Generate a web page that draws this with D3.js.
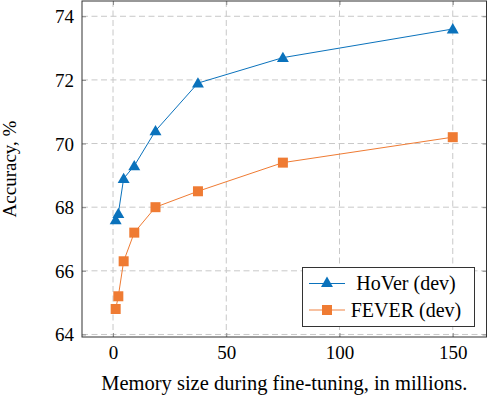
<!DOCTYPE html>
<html>
<head>
<meta charset="utf-8">
<script src="https://cdn.jsdelivr.net/npm/d3@7"></script>
<style>
  html, body { margin: 0; padding: 0; background: #fff; }
  svg { display: block; }
  svg text { font-family: "Liberation Serif", "Times New Roman", serif; }
</style>
</head>
<body>
<div class="plotDiv"></div>
<script>
'use strict';

// memory size (millions) for each run
var memorySizes = [1.17, 2.34, 4.69, 9.38, 18.75, 37.5, 75, 150];
var hoverAcc = [67.6, 67.8, 68.9, 69.3, 70.4, 71.9, 72.7, 73.6];
var feverAcc = [64.8, 65.2, 66.3, 67.2, 68.0, 68.5, 69.4, 70.2];
var xTicks = [0, 50, 100, 150];
var yTicks = [64, 66, 68, 70, 72, 74];
var seriesNames = ['HoVer (dev)', 'FEVER (dev)'];

var width = 488, height = 396;
var plotVars = {left: 82, right: 486.5, top: 1, bottom: 337};
var blue = '#0a72bc', orange = '#ef7b33';
var fontFam = '"Liberation Serif", "Times New Roman", serif';

var mySvg;

const main = () => {
    mySvg = d3.select('.plotDiv').append('svg')
        .attr('width', width)
        .attr('height', height);

    let xScale = d3.scaleLinear()
        .domain([-13.7, 164.9])
        .range([plotVars.left, plotVars.right]);
    let yScale = d3.scaleLinear()
        .domain([63.92, 74.48])
        .range([plotVars.bottom, plotVars.top]);

    drawGrid(xScale, yScale);
    drawAxes(xScale, yScale);

    let hoverData = memorySizes.map((m, i) => ({x: m, y: hoverAcc[i]}));
    let feverData = memorySizes.map((m, i) => ({x: m, y: feverAcc[i]}));

    drawSeries(feverData, xScale, yScale, orange, 'square');
    drawSeries(hoverData, xScale, yScale, blue, 'triangle');

    drawLegend();
}

function drawGrid(xScale, yScale){
    let g = mySvg.append('g').attr('class', 'grid');
    g.selectAll('line.gx')
        .data(xTicks)
        .join('line')
        .attr('class', 'gx')
        .attr('x1', d => xScale(d)).attr('x2', d => xScale(d))
        .attr('y1', plotVars.top).attr('y2', plotVars.bottom)
        .attr('stroke', '#c8c8c8')
        .attr('stroke-width', 1)
        .attr('stroke-dasharray', '6,3.5');
    g.selectAll('line.gy')
        .data(yTicks)
        .join('line')
        .attr('class', 'gy')
        .attr('x1', plotVars.left).attr('x2', plotVars.right)
        .attr('y1', d => yScale(d)).attr('y2', d => yScale(d))
        .attr('stroke', '#c8c8c8')
        .attr('stroke-width', 1)
        .attr('stroke-dasharray', '6,3.5');
}

function drawAxes(xScale, yScale){
    // ticks on all four sides, pointing inward (pgfplots look)
    let xAxisB = d3.axisBottom(xScale).tickValues(xTicks).tickSize(-4).tickPadding(9);
    let xAxisT = d3.axisTop(xScale).tickValues(xTicks).tickSize(-4).tickFormat('');
    let yAxisL = d3.axisLeft(yScale).tickValues(yTicks).tickSize(-4).tickPadding(8);
    let yAxisR = d3.axisRight(yScale).tickValues(yTicks).tickSize(-4).tickFormat('');

    let gb = mySvg.append('g').attr('transform', `translate(0,${plotVars.bottom})`).call(xAxisB);
    let gt = mySvg.append('g').attr('transform', `translate(0,${plotVars.top})`).call(xAxisT);
    let gl = mySvg.append('g').attr('transform', `translate(${plotVars.left},0)`).call(yAxisL);
    let gr = mySvg.append('g').attr('transform', `translate(${plotVars.right},0)`).call(yAxisR);

    [gb, gt, gl, gr].forEach(g => {
        g.attr('font-family', null).attr('font-size', null);
        g.select('.domain').remove();
        g.selectAll('.tick line').attr('stroke', '#777').attr('stroke-width', 0.8);
        g.selectAll('.tick text')
            .attr('fill', '#000')
            .style('font-family', fontFam)
            .style('font-size', '19px');
    });
    gl.selectAll('.tick text').attr('dy', '0.34em');

    // frame
    mySvg.append('rect')
        .attr('x', plotVars.left).attr('y', plotVars.top)
        .attr('width', plotVars.right - plotVars.left)
        .attr('height', plotVars.bottom - plotVars.top)
        .attr('fill', 'none')
        .attr('stroke', '#333')
        .attr('stroke-width', 1);

    mySvg.append('text')
        .attr('x', (plotVars.left + plotVars.right) / 2)
        .attr('y', 390)
        .attr('text-anchor', 'middle')
        .style('font-size', '20.5px')
        .text('Memory size during fine-tuning, in millions.');

    mySvg.append('text')
        .attr('transform', `translate(16,${(plotVars.top + plotVars.bottom) / 2}) rotate(-90)`)
        .attr('text-anchor', 'middle')
        .style('font-size', '19px')
        .text('Accuracy, %');
}

function markerPath(type){
    if (type === 'triangle') return d3.symbol().type(d3.symbolTriangle).size(62)();
    return d3.symbol().type(d3.symbolSquare).size(100)();
}

function drawSeries(data, xScale, yScale, color, shape){
    let lineGenerator = d3.line()
        .x(v => xScale(v.x))
        .y(v => yScale(v.y));

    mySvg.append('path')
        .attr('d', lineGenerator(data))
        .attr('fill', 'none')
        .attr('stroke', color)
        .attr('stroke-width', 1);

    mySvg.append('g')
        .selectAll('path')
        .data(data)
        .join('path')
        .attr('transform', d => `translate(${xScale(d.x)},${yScale(d.y) + (shape === 'triangle' ? 1 : 0)})`)
        .attr('d', markerPath(shape))
        .attr('fill', color);
}

function drawLegend(){
    let box = {x: 302.5, y: 267.5, w: 172, h: 59};
    let lg = mySvg.append('g').attr('class', 'legend');
    lg.append('rect')
        .attr('x', box.x).attr('y', box.y)
        .attr('width', box.w).attr('height', box.h)
        .attr('fill', '#fff')
        .attr('stroke', '#333')
        .attr('stroke-width', 1);

    let rows = [
        {name: seriesNames[0], color: blue, shape: 'triangle', lineColor: blue, y: 283.5},
        {name: seriesNames[1], color: orange, shape: 'square', lineColor: '#f4ad82', y: 310}
    ];

    rows.forEach(r => {
        lg.append('line')
            .attr('x1', 309).attr('x2', 345)
            .attr('y1', r.y).attr('y2', r.y)
            .attr('stroke', r.lineColor)
            .attr('stroke-width', r.shape === 'square' ? 1.5 : 1);
        lg.append('path')
            .attr('transform', `translate(327,${r.y})`)
            .attr('d', markerPath(r.shape))
            .attr('fill', r.color);
        lg.append('text')
            .attr('x', 406)
            .attr('y', r.y + 6.7)
            .attr('text-anchor', 'middle')
            .style('font-size', '20px')
            .text(r.name);
    });
}

main();
</script>
</body>
</html>
